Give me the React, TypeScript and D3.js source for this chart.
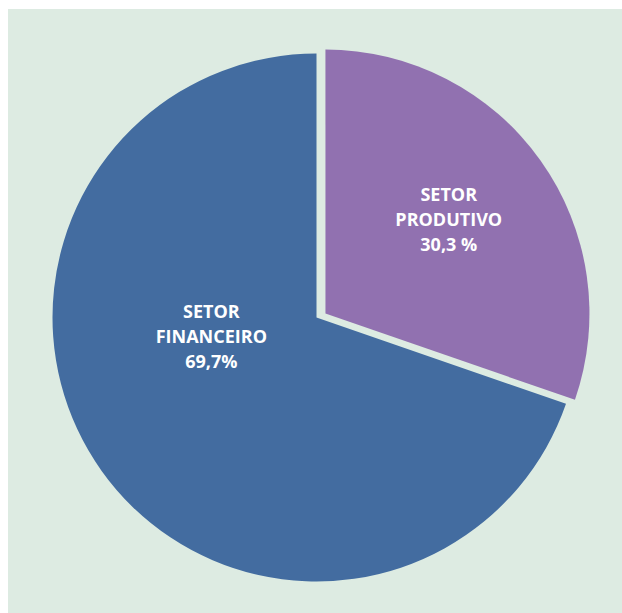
import React from "react";
import * as d3 from "d3";

const categories = ["SETOR PRODUTIVO", "SETOR FINANCEIRO"];
const values = [30.3, 69.7];
const labelLines = [
  ["SETOR", "PRODUTIVO", "30,3 %"],
  ["SETOR", "FINANCEIRO", "69,7%"],
];
const colors = ["#9171b0", "#436ca0"];

const W = 622;
const H = 613;

export default function App() {
  const cx = 316.5;
  const cy = 317.5;
  const r = 264;
  const pie = d3.pie<number>().sort(null).value((d) => d)(values);
  const arc = d3.arc<d3.PieArcDatum<number>>().innerRadius(0).outerRadius(r);
  const explode = [11, 0];
  const labelR = [0.61, 0.41];
  const labelAngleShift = [0.012, 0.38];
  return (
    <svg
      width={W}
      height={H}
      style={{ position: "absolute", left: 0, top: 0, display: "block" }}
    >
      <rect x={0} y={0} width={W} height={H} fill="#ffffff" />
      <rect x={8} y={9} width={W - 8} height={H - 9} fill="#ddebe2" />
      <g transform={`translate(${cx},${cy})`}>
        {pie.map((p, i) => {
          const mid = (p.startAngle + p.endAngle) / 2;
          const dx = Math.sin(mid) * explode[i];
          const dy = -Math.cos(mid) * explode[i] * 0.62;
          return (
            <g key={categories[i]} transform={`translate(${dx},${dy})`}>
              <path d={arc(p) || ""} fill={colors[i]} />
            </g>
          );
        })}
        {pie.map((p, i) => {
          const mid = (p.startAngle + p.endAngle) / 2 + labelAngleShift[i];
          const lx = Math.sin(mid) * r * labelR[i];
          const ly = -Math.cos(mid) * r * labelR[i];
          return (
            <text
              key={"t" + i}
              textAnchor="middle"
              fill="#ffffff"
              fontFamily="'Open Sans', sans-serif"
              fontWeight={700}
              fontSize={18}
            >
              {labelLines[i].map((line, j) => (
                <tspan key={j} x={lx} y={ly + (j - 1) * 25}>
                  {line}
                </tspan>
              ))}
            </text>
          );
        })}
      </g>
    </svg>
  );
}
